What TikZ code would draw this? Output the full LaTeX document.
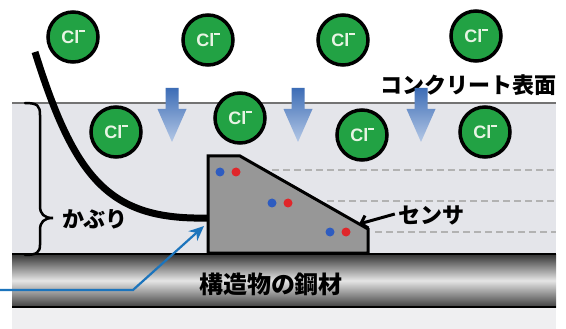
\documentclass[tikz,border=0pt]{standalone}
\usepackage{fontspec}
\newfontfamily\jpfont{Noto Sans CJK JP}
\newfontfamily\ionfont{Liberation Sans}
\usetikzlibrary{arrows.meta,positioning}

\definecolor{iongreen}{HTML}{22A244}
\definecolor{ionwhite}{HTML}{E8F4E4}
\definecolor{concrete}{HTML}{E4E5EA}
\definecolor{underlay}{HTML}{EFEFF1}
\definecolor{sensorgray}{HTML}{979797}
\definecolor{dotblue}{HTML}{2E5CC0}
\definecolor{dotred}{HTML}{E0262A}
\definecolor{flowtop}{HTML}{3D6DB6}
\definecolor{flowtip}{HTML}{B4C8E6}
\definecolor{leadblue}{HTML}{1C74BC}

\newcommand{\chloride}{Cl\rule[0.62em]{0.28em}{0.1em}}

\tikzset{
  ion/.style={circle,draw=black,line width=3.5pt,fill=iongreen,minimum size=50pt,
    inner sep=0pt,text=ionwhite,font=\ionfont\bfseries\fontsize{18}{18}\selectfont},
  jptext/.style={font=\jpfont\bfseries\fontsize{22}{22}\selectfont,inner sep=0pt},
  gauge/.style={draw=black!30,line width=1.3pt,dash pattern=on 7pt off 4pt},
}

\begin{document}
\begin{tikzpicture}[x=1pt,y=-1pt]
  \useasboundingbox (0,0) rectangle (566,329);
  \fill[white] (0,0) rectangle (566,329);

  % concrete cover and the layer under the steel
  \fill[concrete] (12,103) rectangle (556,254);
  \fill[underlay] (12,308) rectangle (556,329);
  \draw[black!55,line width=1.6pt] (12,103) -- (556,103);

  % measuring depths
  \draw[gauge] (272,170) -- (556,170);
  \draw[gauge] (327,201) -- (556,201);
  \draw[gauge] (375,232) -- (556,232);

  % steel bar
  \shade[top color=black!80,bottom color=black!75,middle color=black!10] (12,254) rectangle (556,307);
  \draw[line width=2.5pt] (12,254) -- (556,254);
  \draw[line width=2.5pt] (12,307) -- (556,307);
  \node[jptext,font=\jpfont\bfseries\fontsize{24}{24}\selectfont] (steel) at (271,284) {構造物の鋼材};

  % sensor body
  \coordinate (s1) at (208,156);
  \coordinate (s2) at (240,156);
  \coordinate (s3) at (368,229);
  \coordinate (s4) at (368,253);
  \coordinate (s5) at (208,253);
  \draw[line width=3pt,fill=sensorgray,line join=miter] (s1) -- (s2) -- (s3) -- (s4) -- (s5) -- cycle;
  \foreach \x/\y in {220/172, 272/203, 330/232}{
    \fill[dotblue] (\x,\y) circle (4.5);
    \fill[dotred] (\x+16,\y) circle (4.5);
  }

  % cable
  \draw[line width=7pt] (35,52) .. controls (75,180) and (110,220) .. (207,218);

  % cover brace
  \draw[line width=2.5pt,line cap=round] (25,103) .. controls (38,103) and (40,106) .. (40,115)
    -- (40,206) .. controls (40,214) and (44,218) .. (53,218)
    .. controls (44,218) and (40,222) .. (40,230)
    -- (40,245) .. controls (40,252) and (37,255) .. (25,255);
  \node[jptext] (cover) at (95,219) {かぶり};

  % labels
  \node[jptext] (surface) at (468,85) {コンクリート表面};
  \node[jptext] (sensor) at (431,215) {センサ};
  \coordinate (slope) at (359,224);
  \draw[line width=3pt,-{Straight Barb[length=6pt,width=13pt]}] (sensor.west) ++(-3,-1) -- (slope);

  % chloride ingress
  \foreach \x in {172,298,421}
    \shade[top color=flowtop,bottom color=flowtip]
      (\x-6.5,88) -- (\x+6.5,88) -- (\x+6.5,109) -- (\x+14.5,109) -- (\x,142)
      -- (\x-14.5,109) -- (\x-6.5,109) -- cycle;

  \foreach \x/\y [count=\i] in {73/37, 208/40, 343/40, 476/36, 116/132, 240/118, 362/135, 485/132}
    \node[ion] (cl\i) at (\x,\y) {\chloride};

  % lead-out
  \coordinate (lead) at (0,290);
  \coordinate (knee) at (133,290);
  \coordinate (tip) at (204,226);
  \draw[leadblue,line width=2.2pt,-{Stealth[length=15pt,width=13pt]}] (lead) -- (knee) -- (tip);
\end{tikzpicture}
\end{document}
